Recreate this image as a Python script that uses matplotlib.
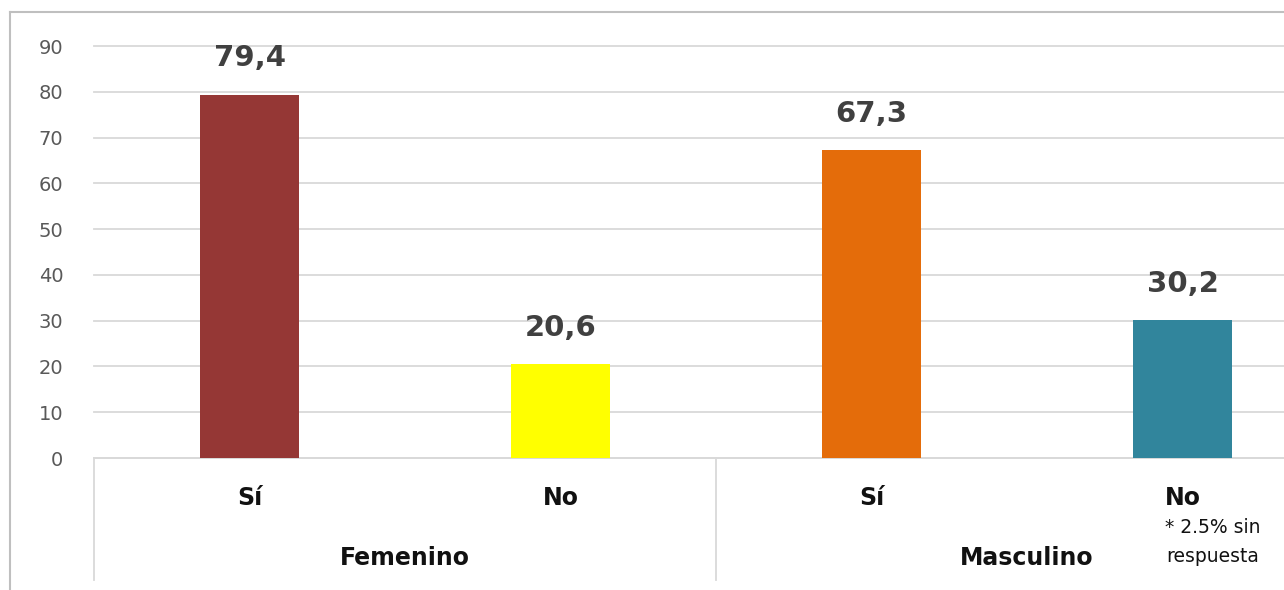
import matplotlib.pyplot as plt
from matplotlib.lines import Line2D

# respuestas por sexo (%)
grupos = ["Femenino", "Masculino"]
respuestas = ["Sí", "No", "Sí", "No"]
valores = [79.4, 20.6, 67.3, 30.2]
colores = ["#953735", "#FFFF00", "#E46C0A", "#31859C"]
nota = ["* 2.5% sin", "respuesta"]

W, H = 1284, 590
fig = plt.figure(figsize=(W / 100, H / 100), dpi=100)
plt.rcParams['font.family'] = ['DejaVu Sans']

# el area de graficos sigue mas alla del borde derecho
ax = fig.add_axes([94 / W, (H - 458) / H, 1244 / W, 412 / H])
x = list(range(len(valores)))
ax.bar(x, valores, width=0.32, color=colores, zorder=3)
ax.set_xlim(-0.5, 3.5)
ax.set_ylim(0, 90)
ax.set_yticks(range(0, 91, 10))
ax.tick_params(axis='y', length=0, pad=22, labelsize=14, labelcolor="#595959")
ax.set_xticks([])
ax.grid(axis='y', color="#d9d9d9", lw=1.3, zorder=0)
for gl in ax.get_ygridlines():
    gl.set_clip_on(False)
for s in ["top", "right", "left"]:
    ax.spines[s].set_visible(False)
ax.spines["bottom"].set_color("#d9d9d9")
ax.spines["bottom"].set_linewidth(1.3)

for xi, v in zip(x, valores):
    ax.annotate(f"{v:.1f}".replace(".", ","), (xi, v), xytext=(0, 26),
                textcoords='offset points', ha='center', va='center',
                fontsize=21, fontweight='bold', color="#404040")
    ax.annotate(respuestas[xi], (xi, 0), xytext=(0, -29),
                textcoords='offset points', ha='center', va='center',
                fontsize=17, fontweight='bold', color="#111111")

# etiquetas de grupo y separadores
tr = ax.get_xaxis_transform()
for xs in [-0.5, 1.5, 3.5]:
    ax.add_line(Line2D([xs, xs], [0, -122 / 412], transform=tr,
                       color="#d9d9d9", lw=1.3, clip_on=False))
for i, g in enumerate(grupos):
    ax.annotate(g, (2 * i + 0.5, 0), xytext=(0, -72),
                textcoords='offset points', ha='center', va='center',
                fontsize=17, fontweight='bold', color="#111111")

ax.annotate(nota[0], (3, 0), xytext=(22, -50), textcoords='offset points',
            ha='center', va='center', fontsize=13.5, color="#111111")
ax.annotate(nota[1], (3, 0), xytext=(22, -71), textcoords='offset points',
            ha='center', va='center', fontsize=13.5, color="#111111")

# borde del grafico
fig.add_artist(Line2D([10 / W, 10 / W], [0, (H - 12) / H], color="#bfbfbf", lw=1.5))
fig.add_artist(Line2D([10 / W, 1], [(H - 12) / H, (H - 12) / H], color="#bfbfbf", lw=1.5))

fig.savefig("out.png", dpi=100)
